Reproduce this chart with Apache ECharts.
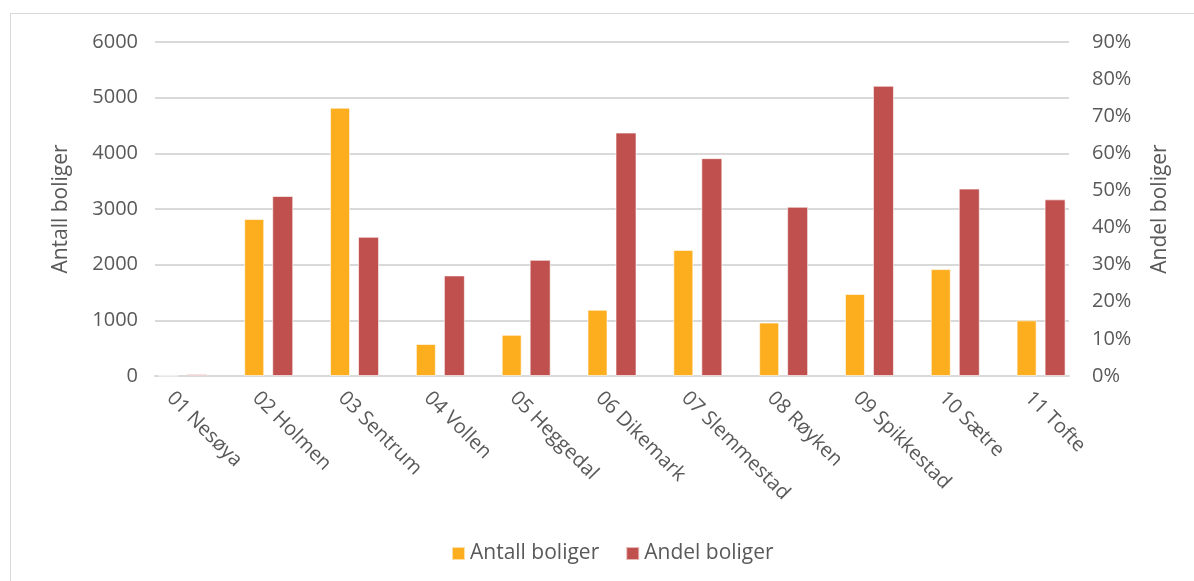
<!DOCTYPE html>
<html>
<head>
<meta charset="utf-8">
<script src="https://cdn.jsdelivr.net/npm/echarts@6/dist/echarts.min.js"></script>
<style>
  html, body { margin: 0; padding: 0; background: #fff; overflow: hidden; }
  #frame { position: absolute; left: 10px; top: 13px; width: 1300px; height: 700px; border: 1px solid #d9d9d9; }
  #chart { position: absolute; left: 0; top: 0; width: 1194px; height: 581px; }
</style>
</head>
<body>
<div id="frame"></div>
<div id="chart"></div>
<script>
  // omrader
  var categories = ['01 Nesøya', '02 Holmen', '03 Sentrum', '04 Vollen', '05 Heggedal', '06 Dikemark',
    '07 Slemmestad', '08 Røyken', '09 Spikkestad', '10 Sætre', '11 Tofte']
  var antallBoliger = [5, 2820, 4820, 575, 740, 1190, 2265, 960, 1475, 1920, 1000]
  var andelBoliger = [0.5, 48.5, 37.5, 27.1, 31.3, 65.6, 58.7, 45.6, 78.2, 50.5, 47.6] // prosent
  var leftTicks = { min: 0, max: 6000, interval: 1000 }
  var rightTicks = { min: 0, max: 90, interval: 10 }

  var txt = '#595959'
  var font = 'Open Sans'
  var chart = echarts.init(document.getElementById('chart'))

  chart.setOption({
    animation: false,
    color: ['#FDAE1F', '#C0504D'],
    textStyle: { fontFamily: font },
    grid: [
      // gridlines + y axes
      { left: 155, right: 125, top: 42, bottom: 205 },
      // bars
      { left: 140, right: 110, top: 42, bottom: 205 },
      // category labels
      { left: 127, right: 123, top: 42, bottom: 205 }
    ],
    legend: {
      left: 446,
      top: 538,
      icon: 'rect',
      itemWidth: 13,
      itemHeight: 13,
      itemGap: 26,
      textStyle: { color: txt, fontSize: 21, fontFamily: font },
      data: ['Antall boliger', 'Andel boliger']
    },
    xAxis: [
      {
        gridIndex: 0, type: 'category', data: categories,
        axisLine: { lineStyle: { color: '#d9d9d9', width: 2 } },
        axisTick: { show: false }, axisLabel: { show: false }
      },
      {
        gridIndex: 1, type: 'category', data: categories,
        axisLine: { show: false }, axisTick: { show: false }, axisLabel: { show: false }
      },
      {
        gridIndex: 2, type: 'category', data: categories,
        axisLine: { show: false }, axisTick: { show: false },
        axisLabel: { rotate: -45, margin: 19, color: txt, fontSize: 20, fontFamily: font, interval: 0 }
      }
    ],
    yAxis: [
      {
        gridIndex: 0, type: 'value', min: leftTicks.min, max: leftTicks.max, interval: leftTicks.interval,
        name: 'Antall boliger', nameLocation: 'middle', nameGap: 83,
        nameTextStyle: { color: txt, fontSize: 21, fontFamily: font },
        axisLine: { show: false }, axisTick: { show: false },
        axisLabel: {
          color: txt, fontSize: 20, margin: 17, fontFamily: font,
          formatter: function (v) { return String(v) }
        },
        splitLine: { lineStyle: { color: '#d9d9d9', width: 2 } }
      },
      {
        gridIndex: 0, type: 'value', position: 'right',
        min: rightTicks.min, max: rightTicks.max, interval: rightTicks.interval,
        name: 'Andel boliger', nameLocation: 'middle', nameGap: 81,
        nameTextStyle: { color: txt, fontSize: 21, fontFamily: font },
        axisLine: { show: false }, axisTick: { show: false },
        axisLabel: { color: txt, fontSize: 20, margin: 23, fontFamily: font, formatter: '{value}%' },
        splitLine: { show: false }
      },
      {
        gridIndex: 1, type: 'value', min: leftTicks.min, max: leftTicks.max, show: false
      },
      {
        gridIndex: 1, type: 'value', min: rightTicks.min, max: rightTicks.max, show: false
      },
      {
        gridIndex: 2, type: 'value', show: false
      }
    ],
    series: [
      {
        name: 'Antall boliger', type: 'bar', xAxisIndex: 1, yAxisIndex: 2,
        barWidth: 20, barGap: '40%',
        itemStyle: { borderColor: 'rgba(255,255,255,0.6)', borderWidth: 1 },
        data: antallBoliger
      },
      {
        name: 'Andel boliger', type: 'bar', xAxisIndex: 1, yAxisIndex: 3,
        barWidth: 21,
        itemStyle: { borderColor: 'rgba(255,255,255,0.6)', borderWidth: 1 },
        data: andelBoliger
      }
    ]
  })
</script>
</body>
</html>
